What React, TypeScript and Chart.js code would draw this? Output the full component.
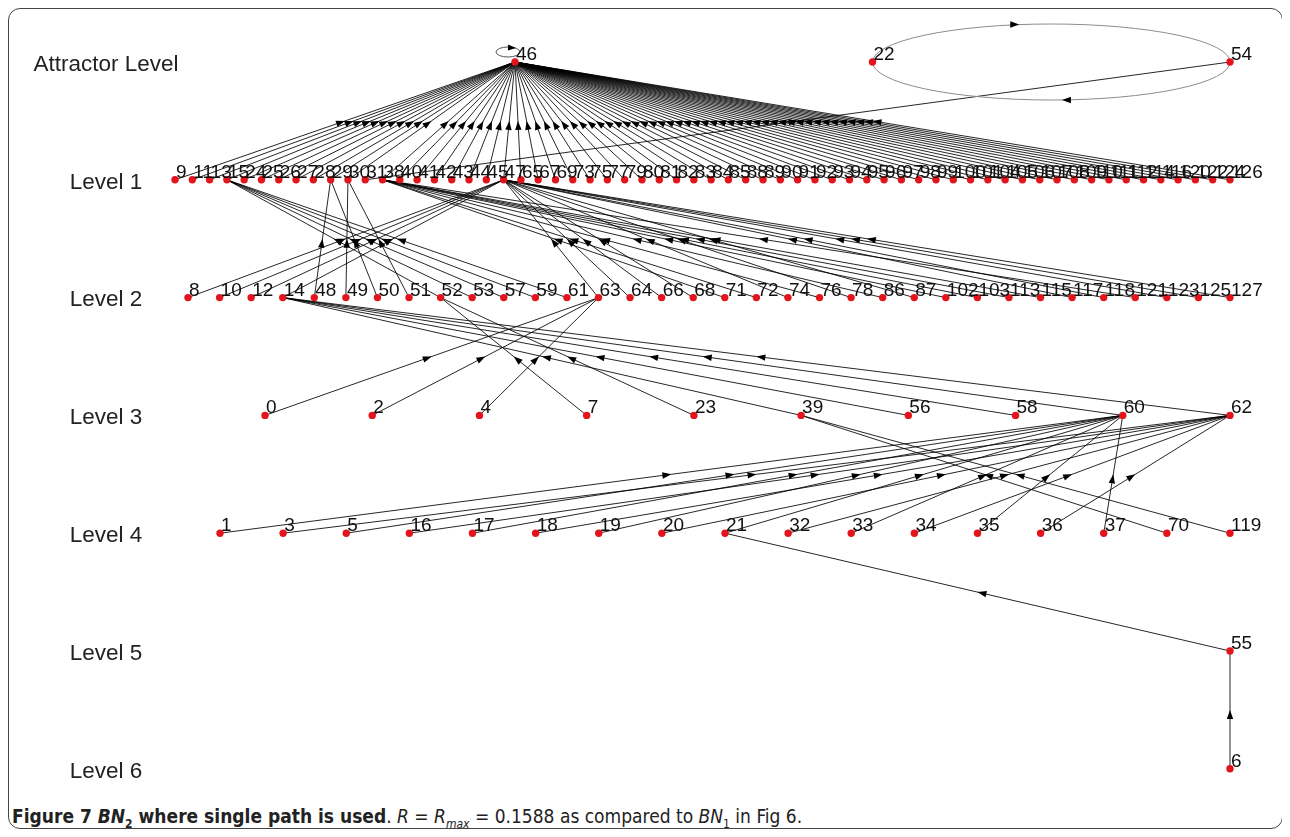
import React, { useEffect, useRef } from "react";
import { Chart, registerables } from "chart.js";

Chart.register(...registerables);

// ---- data -------------------------------------------------------------
const LEVEL_NAMES = ["Attractor Level", "Level 1", "Level 2", "Level 3", "Level 4", "Level 5", "Level 6"];

const ATTRACTOR = [46, 22, 54];
const LEVEL1 = [9, 11, 13, 15, 24, 25, 26, 27, 28, 29, 30, 31, 38, 40, 41, 42, 43, 44, 45, 47, 65, 67, 69, 73, 75, 77, 79, 80, 81, 82, 83, 84, 85, 88, 89, 90, 91, 92, 93, 94, 95, 96, 97, 98, 99, 100, 101, 104, 105, 106, 107, 108, 109, 110, 111, 112, 114, 116, 120, 122, 124, 126];
const LEVEL2 = [8, 10, 12, 14, 48, 49, 50, 51, 52, 53, 57, 59, 61, 63, 64, 66, 68, 71, 72, 74, 76, 78, 86, 87, 102, 103, 113, 115, 117, 118, 121, 123, 125, 127];
const LEVEL3 = [0, 2, 4, 7, 23, 39, 56, 58, 60, 62];
const LEVEL4 = [1, 3, 5, 16, 17, 18, 19, 20, 21, 32, 33, 34, 35, 36, 37, 70, 119];
const LEVEL5 = [55];
const LEVEL6 = [6];
const LEVELS = [ATTRACTOR, LEVEL1, LEVEL2, LEVEL3, LEVEL4, LEVEL5, LEVEL6];

// horizontal extent of each level row (page px)
const LEVEL_X_START = [515, 175, 188, 265, 220, 1230, 1230];
const LEVEL_X_END = 1230;

// transitions (state -> successor)
const SELF_LOOPS = [46];
const CYCLE = [22, 54];
const L1_TO_54 = [31]; // every other level-1 state goes to 46
const L2_EDGES: [number, number][] = [
  [8, 47], [10, 47], [12, 47], [14, 47], [48, 29], [49, 30], [50, 29], [51, 30],
  [52, 15], [53, 15], [57, 15], [59, 15], [61, 15], [63, 47], [64, 47], [66, 47],
  [68, 47], [71, 38], [72, 38], [74, 47], [76, 38], [78, 47], [86, 38], [87, 47],
  [102, 38], [103, 38], [113, 38], [115, 38], [117, 47], [118, 47], [121, 38],
  [123, 47], [125, 47], [127, 47],
];
const L3_EDGES: [number, number][] = [
  [0, 63], [2, 63], [4, 63], [7, 52], [23, 52], [39, 14], [56, 14], [58, 14], [60, 14], [62, 14],
];
const L4_EDGES: [number, number][] = [
  [1, 60], [3, 62], [5, 60], [16, 62], [17, 60], [18, 62], [19, 60], [20, 62], [21, 60],
  [32, 62], [33, 60], [34, 62], [35, 60], [36, 62], [37, 60], [70, 39], [119, 39],
];
const L5_EDGES: [number, number][] = [[55, 21]];
const L6_EDGES: [number, number][] = [[6, 55]];

// ---- layout helpers ---------------------------------------------------
type P = { x: number; y: number; id: number };
function buildNodes(): P[] {
  const out: P[] = [];
  LEVELS.forEach((ids, lvl) => {
    const x0 = LEVEL_X_START[lvl];
    const n = ids.length;
    ids.forEach((id, i) => {
      const x = n === 1 ? LEVEL_X_END : x0 + ((LEVEL_X_END - x0) * i) / (n - 1);
      out.push({ x, y: lvl, id });
    });
  });
  return out;
}

function allEdges(): [number, number][] {
  const e: [number, number][] = [];
  LEVEL1.forEach((id) => e.push([id, L1_TO_54.includes(id) ? 54 : 46]));
  return e.concat(L2_EDGES, L3_EDGES, L4_EDGES, L5_EDGES, L6_EDGES);
}

const CANVAS_W = 1273;
const CANVAS_H = 790;
const PAGE_OFFSET = 9; // canvas left/top on the page
const AXIS_W = 160;
const LABEL_CENTER = 97; // canvas x of the level-name centres
const ROW0 = 62 - PAGE_OFFSET; // canvas y of attractor row
const ROW_GAP = 117.8;
const LABEL_DROP = 2.5 / ROW_GAP; // level names sit slightly below their row
const LEVEL_FONT = '"Liberation Sans", Arial, sans-serif';
const LEVEL_FONT_SIZE = 22.5;

function widestLevelName(): number {
  const c = document.createElement("canvas").getContext("2d");
  if (!c) return 150;
  c.font = `${LEVEL_FONT_SIZE}px ${LEVEL_FONT}`;
  return Math.max(...LEVEL_NAMES.map((s) => c.measureText(s).width));
}

function arrow(ctx: CanvasRenderingContext2D, x: number, y: number, ang: number, len = 9, half = 3.2) {
  ctx.save();
  ctx.translate(x, y);
  ctx.rotate(ang);
  ctx.beginPath();
  ctx.moveTo(0, 0);
  ctx.lineTo(-len, -half);
  ctx.lineTo(-len, half);
  ctx.closePath();
  ctx.fill();
  ctx.restore();
}

const graphPlugin = {
  id: "graphPlugin",
  beforeDatasetsDraw(chart: any) {
    const { ctx } = chart;
    const xs = chart.scales.x;
    const ys = chart.scales.y;
    const nodes: P[] = chart.$nodes;
    const map = new Map<number, { px: number; py: number }>();
    nodes.forEach((n) => map.set(n.id, { px: xs.getPixelForValue(n.x), py: ys.getPixelForValue(n.y) }));

    ctx.save();
    ctx.strokeStyle = "rgba(0,0,0,0.85)";
    ctx.fillStyle = "#000";
    ctx.lineWidth = 1;
    allEdges().forEach(([a, b]) => {
      const pa = map.get(a)!;
      const pb = map.get(b)!;
      ctx.beginPath();
      ctx.moveTo(pa.px, pa.py);
      ctx.lineTo(pb.px, pb.py);
      ctx.stroke();
      const ang = Math.atan2(pb.py - pa.py, pb.px - pa.px);
      arrow(ctx, (pa.px + pb.px) / 2, (pa.py + pb.py) / 2, ang);
    });

    // attractor cycle 22 <-> 54
    const c1 = map.get(CYCLE[0])!;
    const c2 = map.get(CYCLE[1])!;
    const cx = (c1.px + c2.px) / 2;
    const rx = (c2.px - c1.px) / 2;
    const ry = 38;
    ctx.strokeStyle = "#8c8c8c";
    ctx.beginPath();
    ctx.ellipse(cx, c1.py, rx, ry, 0, 0, Math.PI * 2);
    ctx.stroke();
    const tTop = Math.PI * 1.5 - 0.18;
    arrow(ctx, cx + rx * Math.cos(tTop), c1.py + ry * Math.sin(tTop), 0.02);
    const tBot = Math.PI * 0.5 - 0.06;
    arrow(ctx, cx + rx * Math.cos(tBot), c1.py + ry * Math.sin(tBot), Math.PI);

    // self loops
    SELF_LOOPS.forEach((id) => {
      const p = map.get(id)!;
      ctx.strokeStyle = "#555";
      ctx.beginPath();
      ctx.ellipse(p.px - 7, p.py - 10, 12, 5, 0, 0, Math.PI * 2);
      ctx.stroke();
      arrow(ctx, p.px + 1, p.py - 14, 0.05, 8, 3);
    });
    ctx.restore();
  },
  afterDatasetsDraw(chart: any) {
    const { ctx } = chart;
    const xs = chart.scales.x;
    const ys = chart.scales.y;
    const nodes: P[] = chart.$nodes;
    ctx.save();
    ctx.font = '19px "Liberation Sans", Arial, sans-serif';
    ctx.fillStyle = "#111";
    ctx.textAlign = "left";
    ctx.textBaseline = "alphabetic";
    nodes.forEach((n) => {
      ctx.fillText(String(n.id), xs.getPixelForValue(n.x) + 1, ys.getPixelForValue(n.y) - 2);
    });
    ctx.restore();
  },
};

export default function App() {
  const ref = useRef<HTMLCanvasElement | null>(null);
  useEffect(() => {
    if (!ref.current) return;
    const nodes = buildNodes();
    const widest = widestLevelName();
    const chart = new Chart(ref.current, {
      type: "scatter",
      data: {
        datasets: [
          {
            data: nodes.map((n) => ({ x: n.x, y: n.y })),
            backgroundColor: "#e3141b",
            borderWidth: 0,
            pointRadius: 3.7,
            pointHoverRadius: 3.7,
            clip: false as any,
          },
        ],
      },
      options: {
        animation: false,
        responsive: false,
        events: [],
        layout: { padding: 0, autoPadding: false },
        plugins: { legend: { display: false }, tooltip: { enabled: false } },
        scales: {
          x: {
            type: "linear",
            display: false,
            min: PAGE_OFFSET + AXIS_W,
            max: PAGE_OFFSET + CANVAS_W,
          },
          y: {
            type: "linear",
            reverse: true,
            min: -ROW0 / ROW_GAP,
            max: (CANVAS_H - ROW0) / ROW_GAP,
            grid: { display: false, drawTicks: false },
            border: { display: false },
            afterBuildTicks: (scale: any) => {
              scale.ticks = LEVEL_NAMES.map((_, i) => ({ value: i + LABEL_DROP }));
            },
            afterFit: (scale: any) => {
              scale.width = AXIS_W;
              scale.paddingTop = 0;
              scale.paddingBottom = 0;
            },
            ticks: {
              mirror: true,
              crossAlign: "center",
              padding: LABEL_CENTER - AXIS_W - widest / 2,
              color: "#222",
              font: { family: LEVEL_FONT, size: LEVEL_FONT_SIZE },
              callback: (v: any) => LEVEL_NAMES[Math.round(v as number)] ?? "",
            },
          } as any,
        },
      },
      plugins: [
        {
          id: "nodesRef",
          beforeInit(c: any) {
            c.$nodes = nodes;
          },
        },
        graphPlugin,
      ],
    });
    return () => chart.destroy();
  }, []);

  return (
    <div
      style={{
        position: "relative",
        width: 1273,
        height: 819,
        border: "1px solid #444",
        borderRadius: 12,
        background: "#fff",
      }}
    >
      <canvas
        ref={ref}
        width={CANVAS_W}
        height={CANVAS_H}
        style={{ position: "absolute", left: 0, top: 0, width: CANVAS_W, height: CANVAS_H }}
      />
      <div
        style={{
          position: "absolute",
          left: 3,
          top: 796,
          fontFamily: '"Liberation Sans Narrow", "Arial Narrow", "DejaVu Sans Condensed", sans-serif',
          fontSize: 19,
          lineHeight: "22px",
          color: "#222",
          whiteSpace: "nowrap",
        }}
      >
        <b>
          Figure 7 <i>BN</i>
          <sub style={{ fontSize: 12 }}>2</sub> where single path is used
        </b>
        . <i>R</i> = <i>R</i>
        <sub style={{ fontSize: 12 }}>
          <i>max</i>
        </sub>{" "}
        = 0.1588 as compared to <i>BN</i>
        <sub style={{ fontSize: 12 }}>1</sub> in Fig 6.
      </div>
    </div>
  );
}
